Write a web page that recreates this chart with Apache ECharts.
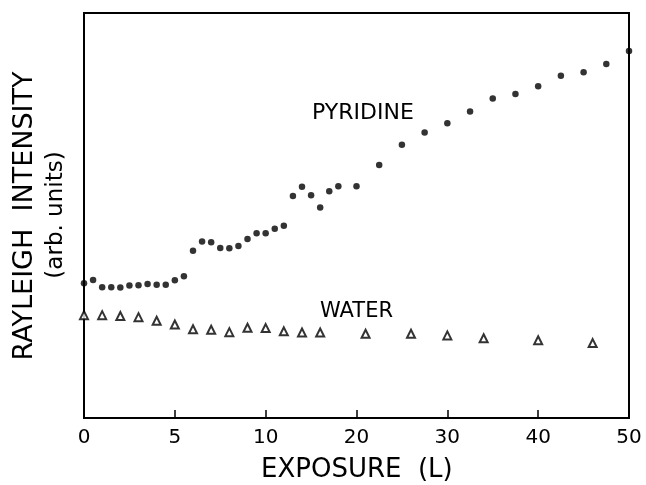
<!DOCTYPE html>
<html>
<head>
<meta charset="utf-8">
<script src="https://cdn.jsdelivr.net/npm/echarts@6/dist/echarts.min.js"></script>
<style>
  html, body { margin: 0; padding: 0; background: #fff; }
  #chart { width: 646px; height: 485px; }
</style>
</head>
<body>
<div id="chart"></div>
<script>
// exposure (L) and intensity (arb. units, 0 = bottom of frame, 100 = top)
var pyridineX = [0, 0.5, 1, 1.5, 2, 2.5, 3, 3.5, 4, 4.5, 5, 5.5,
  6, 6.5, 7, 7.5, 8, 8.5, 9, 9.5, 10, 11, 12,
  13, 14, 15, 16, 17, 18, 20,
  22.5, 25, 27.5, 30, 32.5, 35, 37.5, 40, 42.5, 45, 47.5, 50]
var pyridineY = [33.3, 34.1, 32.3, 32.3, 32.2, 32.7, 32.8, 33.1, 32.9, 32.9, 34.0, 35.0,
  41.3, 43.6, 43.4, 42.0, 41.9, 42.5, 44.2, 45.6, 45.6, 46.7, 47.5,
  54.8, 57.1, 55.0, 52.0, 56.0, 57.2, 57.2,
  62.5, 67.5, 70.5, 72.8, 75.7, 78.9, 80.0, 81.9, 84.5, 85.4, 87.4, 90.6]

var waterX = [0, 1, 2, 3, 4, 5, 6, 7, 8, 9, 10, 12, 14, 16, 21, 26, 30, 34, 40, 46]
var waterY = [25.4, 25.4, 25.2, 24.9, 24.0, 23.1, 21.9, 21.8, 21.2, 22.3, 22.2,
  21.4, 21.1, 21.1, 20.8, 20.8, 20.4, 19.7, 19.2, 18.5]

var xTickLabels = ['0', '5', '10', '20', '30', '40', '50']

// the exposure axis is stretched: 0-10 L takes twice the room per unit of 10-50 L
function toAxis(x) {
  return x <= 10 ? x : 10 + (x - 10) / 2
}

function pairs(xs, ys) {
  return xs.map(function (x, i) { return [toAxis(x), ys[i]] })
}

var chart = echarts.init(document.getElementById('chart'))
var font = 'DejaVu Sans'

chart.setOption({
  animation: false,
  backgroundColor: '#fff',
  grid: {
    left: 84,
    right: 17,
    top: 13,
    bottom: 67,
    show: true,
    borderColor: '#000',
    borderWidth: 2
  },
  xAxis: {
    type: 'value',
    min: 0,
    max: 30,
    interval: 5,
    axisLine: { lineStyle: { color: '#000', width: 2 } },
    axisTick: { inside: true, length: 8, lineStyle: { color: '#000', width: 1.5 } },
    splitLine: { show: false },
    axisLabel: {
      color: '#000',
      fontFamily: font,
      fontSize: 20,
      margin: 10,
      formatter: function (v) { return xTickLabels[Math.round(v / 5)] }
    }
  },
  yAxis: {
    type: 'value',
    min: 0,
    max: 100,
    axisLine: { show: true, lineStyle: { color: '#000', width: 2 } },
    axisTick: { show: false },
    axisLabel: { show: false },
    splitLine: { show: false }
  },
  graphic: [
    {
      type: 'text',
      x: 261,
      y: 457,
      style: { text: 'EXPOSURE  (L)', font: '26px ' + font, fill: '#000' }
    },
    {
      type: 'text',
      x: 11,
      y: 216,
      rotation: Math.PI / 2,
      style: { text: 'RAYLEIGH  INTENSITY', font: '27px ' + font, fill: '#000', align: 'center', verticalAlign: 'top' }
    },
    {
      type: 'text',
      x: 45,
      y: 215,
      rotation: Math.PI / 2,
      style: { text: '(arb. units)', font: '23px ' + font, fill: '#000', align: 'center', verticalAlign: 'top' }
    },
    {
      type: 'text',
      x: 312,
      y: 102,
      style: { text: 'PYRIDINE', font: '22px ' + font, fill: '#000' }
    },
    {
      type: 'text',
      x: 320,
      y: 301,
      style: { text: 'WATER', font: '21px ' + font, fill: '#000' }
    }
  ],
  series: [
    {
      name: 'PYRIDINE',
      type: 'scatter',
      symbol: 'circle',
      symbolSize: 6.5,
      itemStyle: { color: '#000' },
      data: pairs(pyridineX, pyridineY)
    },
    {
      name: 'WATER',
      type: 'scatter',
      symbol: 'triangle',
      symbolSize: 8,
      itemStyle: { color: '#fff', borderColor: '#000', borderWidth: 2 },
      data: pairs(waterX, waterY)
    }
  ]
})
</script>
</body>
</html>
